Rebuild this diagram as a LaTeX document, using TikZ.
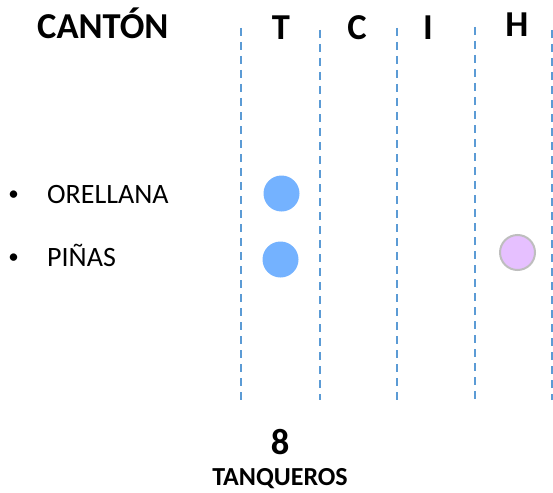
\documentclass[tikz,border=0pt]{standalone}
\usepackage{fontspec}
\setmainfont{Carlito}
\definecolor{sepblue}{HTML}{5B9BD5}
\definecolor{dotblue}{HTML}{74B2FF}
\definecolor{dotpink}{HTML}{E6C0FF}
\definecolor{dotgrey}{HTML}{BEBEBE}
\tikzset{
  sepline/.style={sepblue, line width=1.8pt, dash pattern=on 8pt off 6pt},
  head/.style={anchor=base, inner sep=0pt, font=\fontsize{36.5}{42}\selectfont\bfseries},
  item/.style={anchor=base west, inner sep=0pt, font=\fontsize{28}{33}\selectfont},
  tdot/.style={circle, fill=dotblue, minimum size=36pt, inner sep=0pt},
  hdot/.style={circle, fill=dotpink, draw=dotgrey, line width=2pt, minimum size=35pt, inner sep=0pt}
}
\begin{document}
\begin{tikzpicture}[x=1pt,y=-1pt]
	\useasboundingbox (0,0) rectangle (553,492);

	\draw [sepline] (241,28) -- (241,400);
	\draw [sepline] (320,30) -- (320,400);
	\draw [sepline] (397,28) -- (397,400);
	\draw [sepline] (475,27) -- (475,400);
	\draw [sepline] (552,30) -- (552,400);

	\node [head, anchor=base west] (canton) at (37,39) {CANTÓN};
	\node [head] (colt) at (281,40) {T};
	\node [head] (colc) at (357,40) {C};
	\node [head] (coli) at (428,40) {I};
	\node [head] (colh) at (517,37) {H};

	\node [item, anchor=base, font=\fontsize{21}{25}\selectfont] (bul1) at (13.5,200) {\textbullet};
	\node [item] (orellana) at (47,203) {ORELLANA};
	\node [item, anchor=base, font=\fontsize{21}{25}\selectfont] (bul2) at (13.5,263) {\textbullet};
	\node [item] (pinas) at (47,266) {PIÑAS};

	\node [tdot] (oret) at (281.5,193.5) {};
	\node [tdot] (pint) at (280.5,259.5) {};
	\node [hdot] (pinh) at (517.5,252.5) {};

	\node [head] (total) at (280,454) {8};
	\node [head, font=\fontsize{26}{31}\selectfont\bfseries] (unit) at (280,485) {TANQUEROS};
\end{tikzpicture}
\end{document}
